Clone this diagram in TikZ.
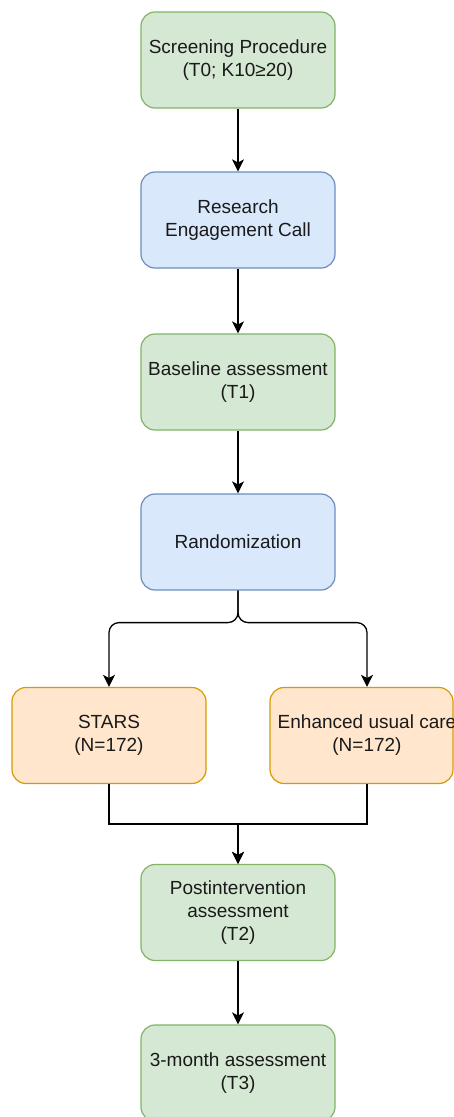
\documentclass[tikz,border=0pt]{standalone}
\usepackage{fontspec}
\setmainfont{Liberation Sans}
\usetikzlibrary{arrows.meta}
\definecolor{gfill}{HTML}{D5E8D4}
\definecolor{gline}{HTML}{82B366}
\definecolor{bfill}{HTML}{DAE8FC}
\definecolor{bline}{HTML}{6C8EBF}
\definecolor{ofill}{HTML}{FFE6CC}
\definecolor{oline}{HTML}{D79B00}
\definecolor{txt}{HTML}{1A1A1A}
\tikzset{
  box/.style={rounded corners=14pt, minimum width=194pt, minimum height=96pt,
    line width=1.2pt, align=center, inner sep=0pt, text=txt,
    font=\fontsize{19}{23}\selectfont},
  greenbox/.style={box, fill=gfill, draw=gline},
  bluebox/.style={box, fill=bfill, draw=bline},
  orangebox/.style={box, fill=ofill, draw=oline},
  conn/.style={line width=1.3pt, draw=black,
    -{Stealth[length=12pt, width=12pt, inset=3pt]}},
}
\begin{document}
\begin{tikzpicture}[x=1pt, y=-1pt]
  \clip (0,0) rectangle (454,1117);
  \fill[white] (0,0) rectangle (454,1117);

  % main column
  \node[greenbox] (screen) at (238,60) {Screening Procedure\\(T0; K10≥20)};
  \node[bluebox] (engage) at (238,220) {Research\\Engagement Call};
  \node[greenbox] (base) at (238,382) {Baseline assessment\\(T1)};
  \node[bluebox] (random) at (238,542) {Randomization};

  % study arms
  \node[orangebox] (stars) at (109,735.5) {STARS\\(N=172)};
  \draw[line width=1.2pt, rounded corners=14pt, fill=ofill, draw=oline]
    (270,687.5) rectangle (453,783.5);
  \node[box, draw=none, fill=none] (eucare) at (367,735.5)
    {Enhanced usual care\\(N=172)};

  % follow-up
  \node[greenbox] (post) at (238,912.5) {Postintervention\\assessment\\(T2)};
  \node[greenbox] (three) at (238,1073) {3-month assessment\\(T3)};

  \coordinate (join) at (238,824);

  \draw[conn] (screen) -- (engage);
  \draw[conn] (engage) -- (base);
  \draw[conn] (base) -- (random);
  \draw[conn, rounded corners=10pt] (random.south) -- ++(0,32) -| (stars.north);
  \draw[conn, rounded corners=10pt] (random.south) -- ++(0,32) -| (eucare.north);
  \draw[conn] (stars.south) |- (join) -- (post.north);
  \draw[conn] (eucare.south) |- (join) -- (post.north);
  \draw[conn] (post) -- (three);
\end{tikzpicture}
\end{document}
